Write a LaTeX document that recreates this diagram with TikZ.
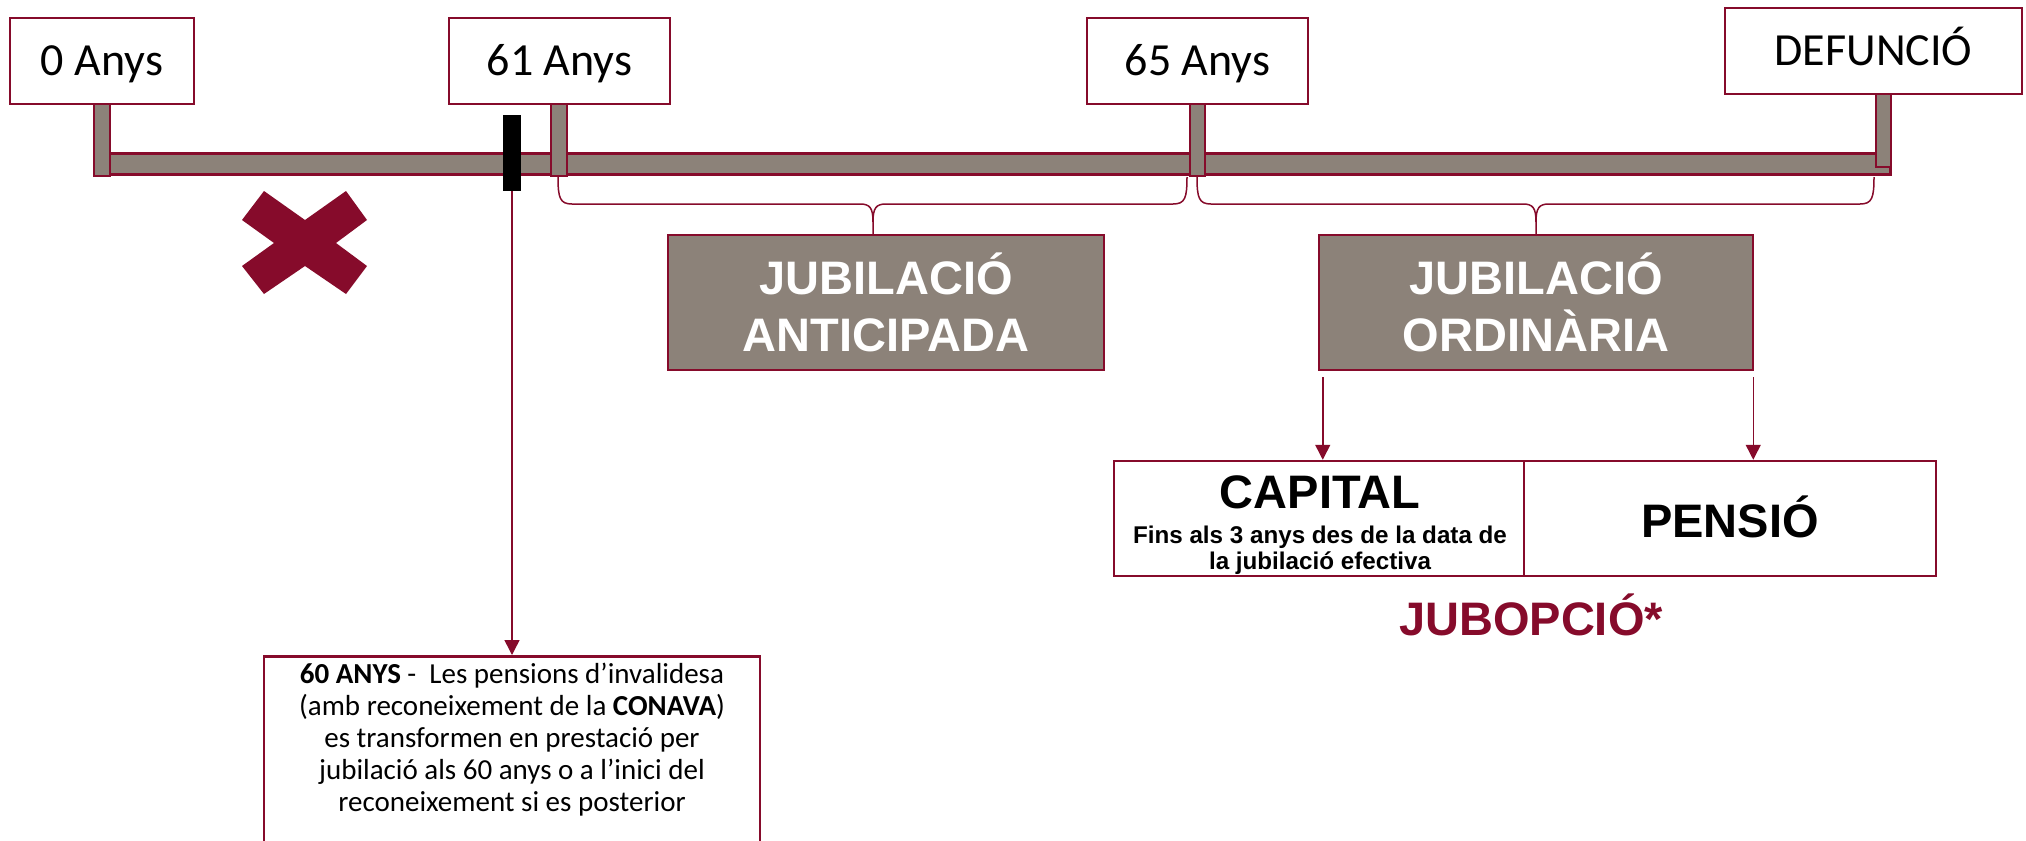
\documentclass[tikz,border=0pt]{standalone}
\usepackage{fontspec}
\setmainfont{Carlito}
\newfontfamily\arialf{Liberation Sans}
\usetikzlibrary{arrows.meta}
\definecolor{maroon}{RGB}{134,11,43}
\definecolor{taupe}{RGB}{140,130,121}
\tikzset{
  agebox/.style={draw=maroon, line width=1.25pt, fill=white, inner sep=0pt,
    font=\fontsize{23}{27}\selectfont, text height=14.8pt, text depth=0pt},
  tickbar/.style={draw=maroon, line width=0.75pt, fill=taupe},
  greybox/.style={draw=maroon, line width=1.25pt, fill=taupe, text=white, align=center,
    inner sep=0pt, font=\arialf\bfseries\fontsize{23.5}{28.5}\selectfont},
  whitebox/.style={draw=maroon, line width=1.25pt, fill=white, inner sep=0pt},
  bigtxt/.style={anchor=base, inner sep=0pt, font=\arialf\bfseries\fontsize{23.5}{28}\selectfont},
  thinline/.style={draw=maroon, line width=0.75pt},
  arr/.style={thinline, -{Triangle[width=7.5pt,length=7.5pt]}},
}
\begin{document}
\begin{tikzpicture}[x=0.5pt,y=-0.5pt]
\clip (0,0) rectangle (2026,841);
\fill[white] (0,0) rectangle (2026,841);

% timeline bar
\draw[maroon, line width=1.5pt, fill=taupe] (94.5,153.5) rectangle (1890.5,174.5);
% ticks
\draw[tickbar] (94,103) rectangle (110,176);
\draw[tickbar] (551,103) rectangle (567,176);
\draw[tickbar] (1190,103) rectangle (1205,176);
\draw[tickbar] (1876,93) rectangle (1891,167);

% age boxes
\node[agebox, minimum width=92pt, minimum height=43pt] (a0) at (102,61) {0 Anys};
\node[agebox, minimum width=110.5pt, minimum height=43pt] (a61) at (559.5,61) {61 Anys};
\node[agebox, minimum width=110.5pt, minimum height=43pt] (a65) at (1197.5,61) {65 Anys};
\node[agebox, minimum width=148.5pt, minimum height=43pt] (adef) at (1873.5,51) {DEFUNCIÓ};

% black marker
\node[fill=black, inner sep=0pt, minimum width=9pt, minimum height=38pt] (mark) at (512,153) {};

% cross
\fill[maroon] (264,191) -- (305,220) -- (346,191) -- (367,220) -- (336,243) -- (367,266)
  -- (346,294) -- (305,266) -- (264,294) -- (242,266) -- (274,243) -- (242,220) -- cycle;

% grey boxes
\node[greybox, minimum width=218pt, minimum height=67.5pt] (antic) at (886,302.5) {JUBILACIÓ\\ANTICIPADA};
\node[greybox, minimum width=217pt, minimum height=67.5pt] (ordin) at (1536,302.5) {JUBILACIÓ\\ORDINÀRIA};

% braces
\draw[thinline] (558,177) .. controls (558,198) and (560,204) .. (572,204) -- (860,204)
  .. controls (870,204) and (873,208) .. (873,222) -- (873,235);
\draw[thinline] (1187,177) .. controls (1187,198) and (1185,204) .. (1173,204) -- (886,204)
  .. controls (876,204) and (873,208) .. (873,222);
\draw[thinline] (1197,177) .. controls (1197,198) and (1199,204) .. (1211,204) -- (1523,204)
  .. controls (1533,204) and (1536,208) .. (1536,222) -- (ordin.north);
\draw[thinline] (1874,177) .. controls (1874,198) and (1872,204) .. (1860,204) -- (1549,204)
  .. controls (1539,204) and (1536,208) .. (1536,222);

% capital / pensio
\node[whitebox, minimum width=205pt, minimum height=57.5pt] (cap) at (1319,518.5) {};
\node[whitebox, minimum width=206pt, minimum height=57.5pt] (pen) at (1730,518.5) {};
\node[bigtxt] (capt) at (1320,508) {CAPITAL};
\node[anchor=base, align=center, inner sep=0pt, font=\arialf\bfseries\fontsize{12.1}{13}\selectfont] (capsub) at (1320,569) {Fins als 3 anys des de la data de\\la jubilació efectiva};
\node[bigtxt] (pent) at (1730,537) {PENSIÓ};
\node[bigtxt, text=maroon] (jub) at (1531,635) {JUBOPCIÓ*};

\draw[arr] ([xshift=2.5pt,yshift=-3pt]ordin.south west) -- ([xshift=2.5pt]ordin.south west |- cap.north);
\draw[arr] ([xshift=-0.5pt,yshift=-3pt]ordin.south east) -- ([xshift=-0.5pt]ordin.south east |- pen.north);

% note box
\node[whitebox, anchor=north, minimum width=248pt, minimum height=110pt] (note) at (512,655) {};
\node[anchor=base, align=center, inner sep=0pt, font=\fontsize{14.5}{16}\selectfont] (notet) at (512,811)
  {\textbf{60 ANYS} -~ Les pensions d’invalidesa\\(amb reconeixement de la \textbf{CONAVA})\\es transformen en prestació per\\jubilació als 60 anys o a l’inici del\\reconeixement si es posterior};
\draw[arr] (mark.south) -- (note.north);
\end{tikzpicture}
\end{document}
